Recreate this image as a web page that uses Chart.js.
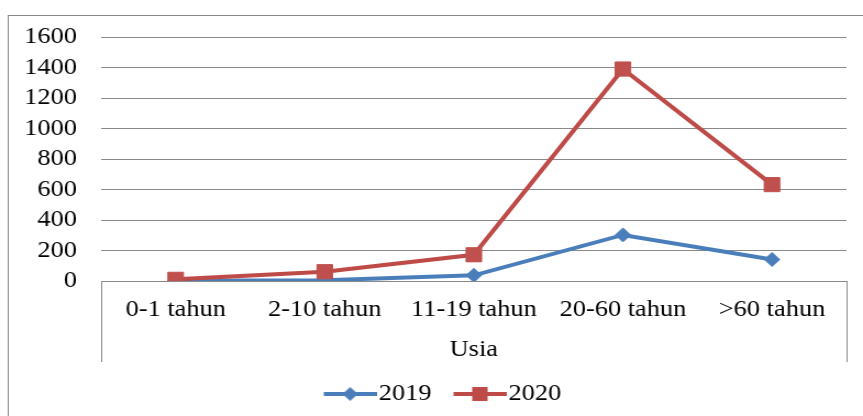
<!DOCTYPE html>
<html>
<head>
<meta charset="utf-8">
<script src="https://cdn.jsdelivr.net/npm/chart.js@4/dist/chart.umd.min.js"></script>
<style>
  html, body { margin: 0; padding: 0; background: #fff; overflow: hidden; }
  /* chart is drawn narrow and widened a little, like the original figure */
  #wrap { width: 785px; height: 416px; transform: scaleX(1.0994); transform-origin: 0 0; }
</style>
</head>
<body>
<div id="wrap"><canvas id="myChart"></canvas></div>
<script>
const categories = ["0-1 tahun", "2-10 tahun", "11-19 tahun", "20-60 tahun", ">60 tahun"];
const values2019 = [2, 5, 37, 302, 141];
const values2020 = [11, 61, 172, 1390, 632];
const yTickValues = [0, 200, 400, 600, 800, 1000, 1200, 1400, 1600];

const blue = "#4a7ebb";
const red = "#be4b48";
const gridGray = "#8a8a8a";

Chart.defaults.font.family = "'Liberation Serif', 'Times New Roman', serif";
Chart.defaults.font.size = 24;
Chart.defaults.color = "#000";

// legend swatch: short line with the series marker in the middle
function legendIcon(color, shape) {
  const c = document.createElement("canvas");
  c.width = 58;
  c.height = 18;
  const g = c.getContext("2d");
  g.strokeStyle = color;
  g.lineWidth = 4;
  g.beginPath();
  g.moveTo(10, 9);
  g.lineTo(58, 9);
  g.stroke();
  g.fillStyle = color;
  g.beginPath();
  if (shape === "diamond") {
    g.moveTo(34, 2);
    g.lineTo(41, 9);
    g.lineTo(34, 16);
    g.lineTo(27, 9);
    g.closePath();
  } else {
    g.rect(27, 2, 14, 14);
  }
  g.fill();
  return c;
}
const icons = [legendIcon(blue, "diamond"), legendIcon(red, "square")];

// outer border and the box under the category axis
const frameLines = {
  id: "frameLines",
  beforeDraw(chart) {
    const { ctx, chartArea, scales } = chart;
    ctx.save();
    ctx.strokeStyle = gridGray;
    ctx.lineWidth = 1;
    ctx.strokeRect(7.5, 15.5, chart.width + 20, chart.height + 20);
    ctx.beginPath();
    [chartArea.left, chartArea.right].forEach((x) => {
      const px = Math.round(x) + 0.5;
      ctx.moveTo(px, chartArea.bottom);
      ctx.lineTo(px, scales.x.bottom);
    });
    ctx.stroke();
    ctx.restore();
  },
};

let myChart = document.getElementById("myChart").getContext("2d");
let myGraph = new Chart(myChart, {
  type: "line",
  data: {
    labels: categories,
    datasets: [
      {
        label: "2019",
        data: values2019,
        borderColor: blue,
        backgroundColor: blue,
        borderWidth: 4,
        pointStyle: "rectRot",
        pointRadius: 7,
        pointBorderWidth: 1,
        pointBackgroundColor: blue,
        pointBorderColor: blue,
        tension: 0,
        order: 1,
      },
      {
        label: "2020",
        data: values2020,
        borderColor: red,
        backgroundColor: red,
        borderWidth: 4,
        pointStyle: "rect",
        pointRadius: 10,
        pointBorderWidth: 1,
        pointBackgroundColor: "#c0504d",
        pointBorderColor: "#c0504d",
        tension: 0,
        order: 0,
      },
    ],
  },
  options: {
    responsive: true,
    maintainAspectRatio: false,
    animation: false,
    events: [],
    layout: { padding: { top: 37, left: 20, right: 0, bottom: 0 } },
    scales: {
      x: {
        offset: true,
        grid: { display: false },
        border: { display: true, color: gridGray, width: 1 },
        ticks: { padding: 6, maxRotation: 0, autoSkip: false },
        title: { display: true, text: "Usia", padding: { top: 0, bottom: -2 } },
        afterFit: (s) => { s.height = 81; },
      },
      y: {
        min: 0,
        max: 1600,
        grid: { color: gridGray, lineWidth: 1, drawTicks: false },
        border: { display: false },
        ticks: { padding: 22, autoSkip: false, callback: (v) => String(v) },
        afterBuildTicks: (s) => { s.ticks = yTickValues.map((v) => ({ value: v })); },
        afterFit: (s) => { s.width = 72; },
      },
      // empty strip on the right so the plot stops short of the border
      yRight: {
        type: "linear",
        position: "right",
        grid: { display: false },
        border: { display: false },
        ticks: { display: false },
        afterFit: (s) => { s.width = 15; },
      },
    },
    plugins: {
      tooltip: { enabled: false },
      legend: {
        position: "bottom",
        labels: {
          usePointStyle: true,
          pointStyleWidth: 38,
          padding: 20,
          sort: (a, b) => a.datasetIndex - b.datasetIndex,
          generateLabels(chart) {
            const items = Chart.defaults.plugins.legend.labels.generateLabels(chart);
            items.forEach((it) => { it.pointStyle = icons[it.datasetIndex]; });
            return items;
          },
        },
      },
    },
  },
  plugins: [frameLines],
});
</script>
</body>
</html>
